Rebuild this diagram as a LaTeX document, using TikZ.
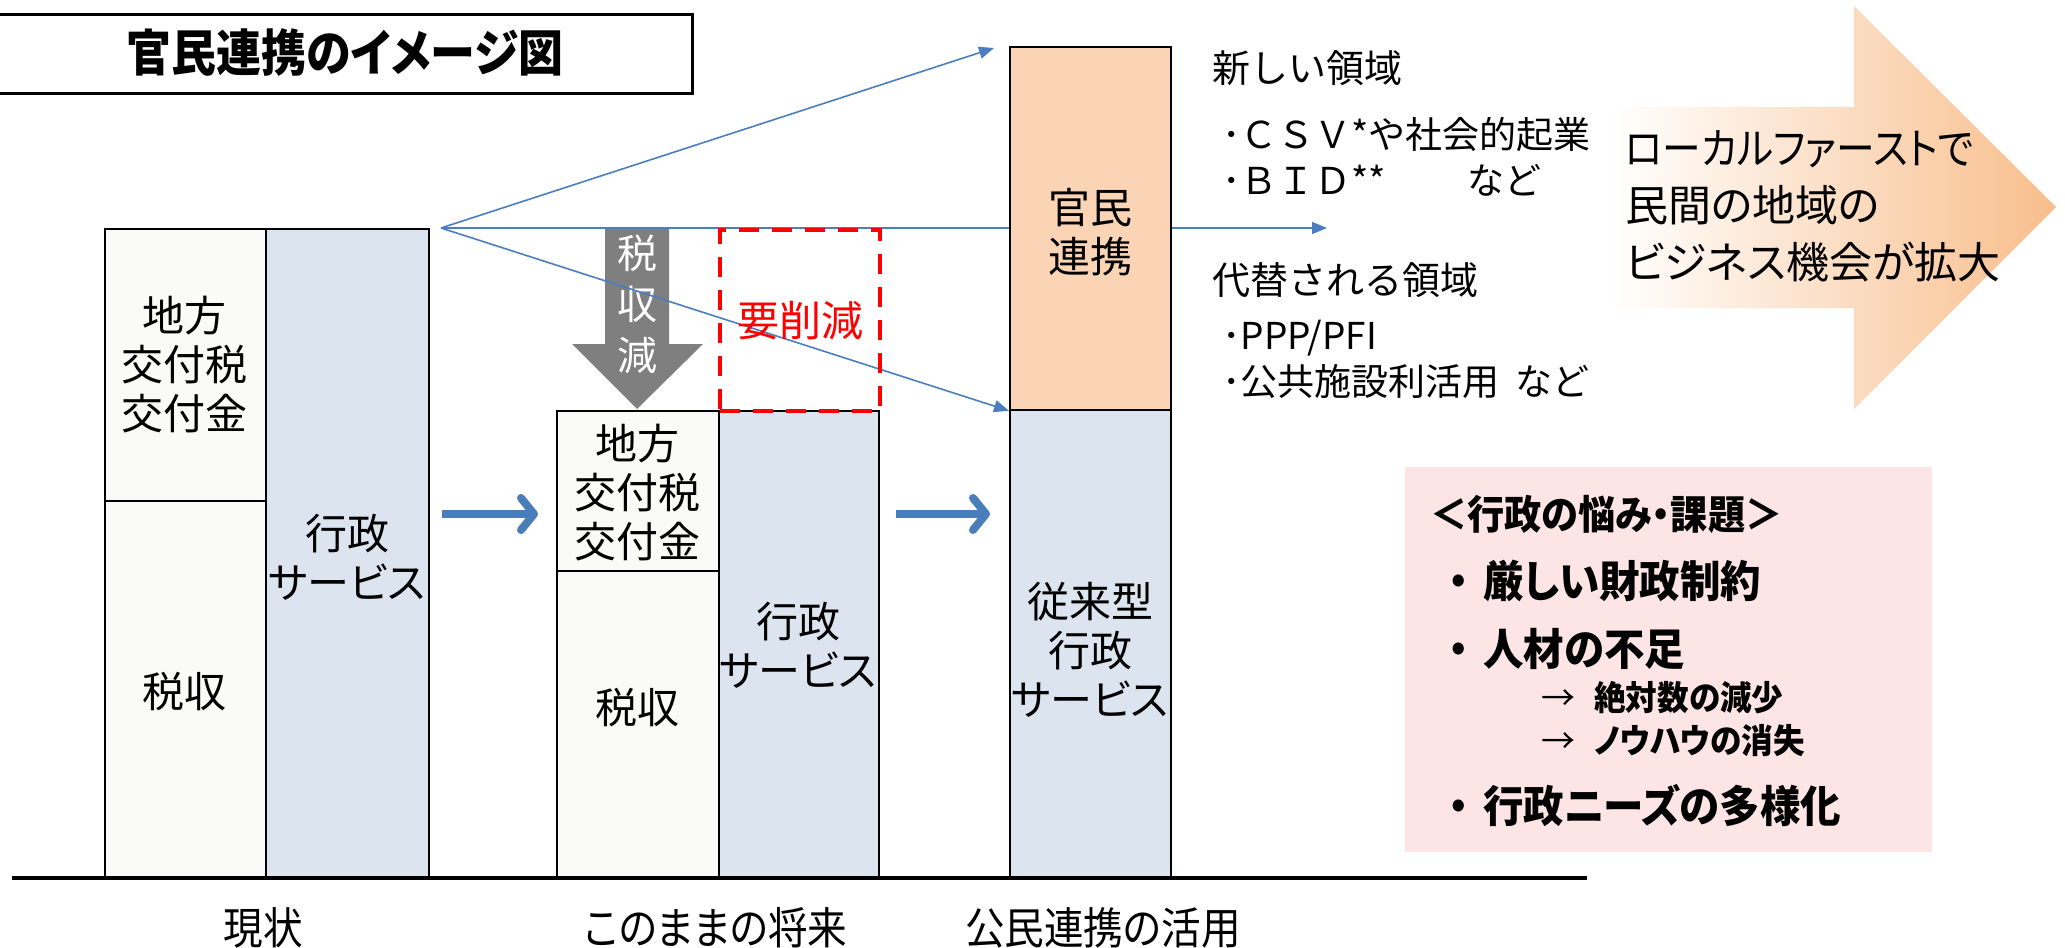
\documentclass[tikz,border=0pt]{standalone}
\usepackage{fontspec}
\usetikzlibrary{arrows.meta}
\setmainfont{Noto Sans CJK JP}[RawFeature=+palt]
\newfontfamily\jpfull{Noto Sans CJK JP}
\newfontfamily\jpcond{Noto Sans CJK JP}[FakeStretch=0.9,RawFeature=+palt]
\newfontfamily\jpbc{Noto Sans CJK JP}[FakeStretch=0.93,RawFeature=+palt]
\newfontfamily\jptitle{Noto Sans CJK JP}[FakeStretch=0.9,RawFeature=+palt]
\definecolor{barW}{HTML}{FAFAF8}
\definecolor{barB}{HTML}{DCE4F0}
\definecolor{barO}{HTML}{FAD4B4}
\definecolor{lineB}{HTML}{4A7EBF}
\definecolor{arrB}{HTML}{4A7EBB}
\definecolor{grayA}{HTML}{7F7F7F}
\definecolor{pinkA}{HTML}{FDE4E5}
\definecolor{arrO}{HTML}{F8BE8C}
\begin{document}
\begin{tikzpicture}[x=1pt,y=-1pt,
  mybar/.style={draw=black,line width=1.8pt,inner sep=0pt,anchor=north west},
  mybarw/.style={mybar,fill=barW},
  mybarb/.style={mybar,fill=barB},
  mybaro/.style={mybar,fill=barO},
  mybt/.style={font=\fontsize{42}{49}\selectfont,align=center,inner sep=0pt},
  mythin/.style={draw=lineB,line width=1.6pt,-{Triangle[length=15pt,width=12pt]}},
  myline/.style={draw=lineB,line width=1.6pt},
  mybig/.style={draw=arrB,line width=8pt,-{Straight Barb[length=13pt,width=32pt,round]}},
  myside/.style={anchor=west,inner sep=0pt,font=\jpfull\fontsize{38}{44}\selectfont},
  myitem/.style={anchor=west,inner sep=0pt,font=\jpfull\fontsize{37}{42}\selectfont},
  myissue/.style={anchor=west,inner sep=0pt,font=\jpbc\bfseries\fontsize{43.5}{46}\selectfont},
  myhead/.style={anchor=west,inner sep=0pt,font=\jpbc\bfseries\fontsize{40}{44}\selectfont},
  mysub/.style={anchor=west,inner sep=0pt,font=\jpbc\bfseries\fontsize{34}{38}\selectfont},
  myfoot/.style={inner sep=0pt,font=\jpcond\fontsize{44}{48}\selectfont}]
\useasboundingbox (0,0) rectangle (2065,948);
\fill[white] (0,0) rectangle (2065,948);

% title
\node[draw=black,line width=3pt,minimum width=698pt,minimum height=79pt,anchor=north west,inner sep=0pt] (title) at (-7,13) {};
\node[font=\jptitle\bfseries\fontsize{50}{54}\selectfont,inner sep=0pt] (titletext) at (345,53) {官民連携のイメージ図};

% bars
\node[mybarw,minimum width=161pt,minimum height=272pt] (b1a) at (104,228) {};
\node[mybarw,minimum width=161pt,minimum height=378pt] (b1b) at (104,500) {};
\node[mybarb,minimum width=163pt,minimum height=650pt] (b1c) at (265,228) {};
\node[mybarw,minimum width=162pt,minimum height=160pt] (b2a) at (556,410) {};
\node[mybarw,minimum width=162pt,minimum height=308pt] (b2b) at (556,570) {};
\node[mybarb,minimum width=160pt,minimum height=468pt] (b2c) at (718,410) {};
\node[mybaro,minimum width=161pt,minimum height=363pt] (b3a) at (1009,46) {};
\node[mybarb,minimum width=161pt,minimum height=469pt] (b3b) at (1009,409) {};

% bar texts
\node[mybt] (t1a) at (184,365) {地方\\交付税\\交付金};
\node[mybt] (t1b) at (184,692) {税収};
\node[mybt] (t1c) at (347,557) {行政\\サービス};
\node[mybt] (t2a) at (637,493) {地方\\交付税\\交付金};
\node[mybt] (t2b) at (637,708) {税収};
\node[mybt] (t2c) at (798,645) {行政\\サービス};
\node[mybt] (t3a) at (1090,232) {官民\\連携};
\node[mybt] (t3b) at (1090,650) {従来型\\行政\\サービス};

% ground line
\draw[line width=4pt] (12,878) -- (1587,878);

% gray arrow
\fill[grayA] (605,228) -- (669,228) -- (669,344) -- (703,344) -- (637,409) -- (572,344) -- (605,344) -- cycle;
\node[text=white,align=center,inner sep=0pt,font=\fontsize{40}{51}\selectfont] (gtx) at (637,304) {税\\収\\減};

% thin blue lines
\coordinate (O) at (441,228);
\coordinate (topEnd) at (994,48);
\coordinate (midEnd) at (1327,228);
\draw[mythin] (O) -- (topEnd);
\draw[myline] (O) -- (b3a.west |- O);
\draw[mythin] (b3a.east |- O) -- (midEnd);
\draw[mythin] (O) -- (b3a.south west);

% red dashed box
\node[draw=red,line width=4pt,dash pattern=on 20pt off 13pt,minimum width=160pt,minimum height=181pt,
  anchor=north west,inner sep=0pt,text=red,font=\fontsize{42}{46}\selectfont] (cut) at (718,228) {要削減};

% big blue arrows
\coordinate (a1s) at (442,514);
\coordinate (a1e) at (538,514);
\coordinate (a2s) at (896,514);
\coordinate (a2e) at (990,514);
\draw[mybig] (a1s) -- (a1e);
\draw[mybig] (a2s) -- (a2e);

% right texts
\node[myside] (new) at (1212,68) {新しい領域};
\node[myitem] (csv) at (1222,135) {･ＣＳＶ*や社会的起業};
\node[myitem] (bid) at (1222,180) {･ＢＩＤ**\hspace{81pt}など};
\node[myside] (alt) at (1212,280) {代替される領域};
\node[myitem] (ppp) at (1222,338) {･PPP/PFI};
\node[myitem] (pub) at (1222,382) {･公共施設利活用\hspace{16pt}など};

% big orange arrow
\shade[left color=white,right color=arrO] (1610,107) -- (1854,107) -- (1854,6) -- (2056,207) -- (1854,409) -- (1854,308) -- (1610,308) -- cycle;
\node[anchor=west,align=left,inner sep=0pt,font=\fontsize{43}{57}\selectfont] (biz) at (1625,206)
  {{\jpcond ローカルファーストで}\\民間の地域の\\ビジネス機会が拡大};

% issues box
\node[fill=pinkA,minimum width=527pt,minimum height=385pt,anchor=north west,inner sep=0pt] (issues) at (1405,467) {};
\node[myhead] (ih) at (1430,514) {＜行政の悩み・課題＞};
\node[myissue] (i1) at (1435,581) {\makebox[48pt]{・}厳しい財政制約};
\node[myissue] (i2) at (1435,649) {\makebox[48pt]{・}人材の不足};
\node[mysub] (i2a) at (1541,698) {\makebox[53pt][l]{\jpfull\mdseries →}絶対数の減少};
\node[mysub] (i2b) at (1541,741) {\makebox[53pt][l]{\jpfull\mdseries →}ノウハウの消失};
\node[myissue] (i3) at (1435,806) {\makebox[48pt]{・}行政ニーズの多様化};

% footer labels
\node[myfoot] (f1) at (263,928) {現状};
\node[myfoot] (f2) at (716,928) {このままの将来};
\node[myfoot] (f3) at (1103,928) {公民連携の活用};
\end{tikzpicture}
\end{document}
